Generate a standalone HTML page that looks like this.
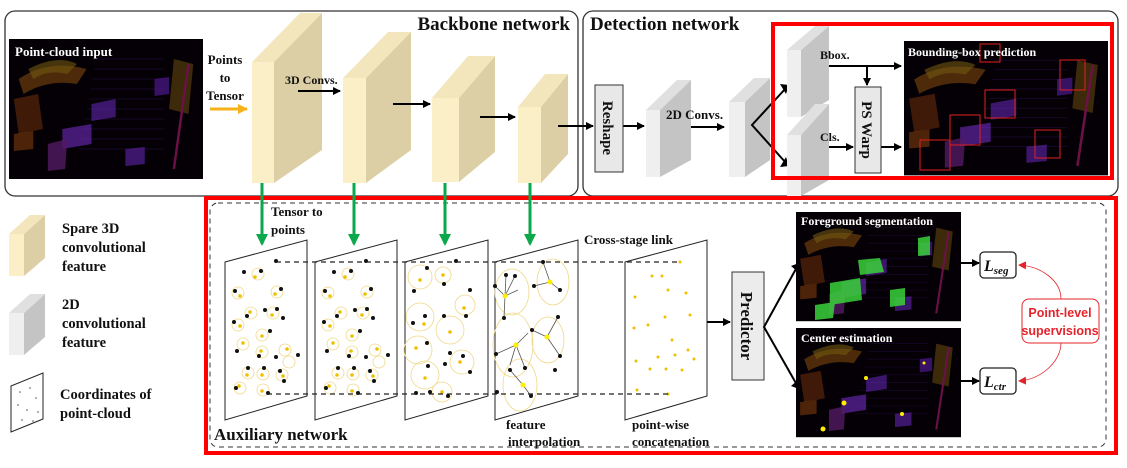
<!DOCTYPE html>
<html><head><meta charset="utf-8"><style>
html,body{margin:0;padding:0;background:#fff;}
svg{display:block;}
text{font-family:"Liberation Serif",serif;font-weight:bold;fill:#111;}
</style></head><body>
<svg width="1127" height="468" viewBox="0 0 1127 468" xmlns="http://www.w3.org/2000/svg">
<defs>
<marker id="ab" markerWidth="8" markerHeight="8" refX="7" refY="4" orient="auto" markerUnits="userSpaceOnUse"><path d="M0,0 L8,4 L0,8 z" fill="#000"/></marker>
<marker id="ag" markerWidth="12" markerHeight="12" refX="10" refY="6" orient="auto" markerUnits="userSpaceOnUse"><path d="M0,0 L12,6 L0,12 z" fill="#0aa84a"/></marker>
<marker id="ao" markerWidth="10" markerHeight="10" refX="9" refY="5" orient="auto" markerUnits="userSpaceOnUse"><path d="M0,0 L10,5 L0,10 z" fill="#f5b21a"/></marker>
<marker id="ar" markerWidth="8" markerHeight="8" refX="7" refY="4" orient="auto" markerUnits="userSpaceOnUse"><path d="M0,0 L8,4 L0,8 z" fill="#e3242b"/></marker>
<g id="pc">
<rect x="0" y="0" width="200" height="140" fill="#050005"/>
<g stroke="#2a1050" stroke-width="0.8" opacity="0.6">
<line x1="90" y1="20" x2="160" y2="20"/><line x1="88" y1="30" x2="160" y2="30"/><line x1="86" y1="40" x2="160" y2="40"/><line x1="84" y1="50" x2="160" y2="50"/><line x1="82" y1="60" x2="160" y2="60"/><line x1="80" y1="70" x2="160" y2="70"/><line x1="78" y1="80" x2="160" y2="80"/><line x1="76" y1="90" x2="160" y2="90"/><line x1="74" y1="100" x2="160" y2="100"/><line x1="72" y1="110" x2="160" y2="110"/>
</g>
<g opacity="0.55">
<path d="M10,40 Q40,20 80,30 L70,45 Q40,40 15,55 z" fill="#b46a12" opacity="0.75"/>
<path d="M20,30 Q50,15 70,25 L60,35 Q40,30 25,40 z" fill="#c9a21a" opacity="0.6"/>
<path d="M5,60 L30,55 L35,90 L10,95 z" fill="#a04510" opacity="0.7"/>
<path d="M170,20 L190,25 L185,75 L165,70 z" fill="#b08018" opacity="0.6"/>
<line x1="185" y1="25" x2="170" y2="130" stroke="#c02080" stroke-width="2.5"/>
<path d="M85,65 L110,60 L110,78 L85,82 z" fill="#6a28c0"/>
<path d="M55,90 L85,85 L85,105 L55,110 z" fill="#7a30d0"/>
<path d="M120,110 L140,108 L140,125 L120,127 z" fill="#6a28c0"/>
<path d="M40,105 L60,100 L58,130 L40,132 z" fill="#9030b0" opacity="0.8"/>
<path d="M150,40 L165,38 L165,55 L150,57 z" fill="#6020b0"/>
<path d="M5,95 L25,92 L25,110 L5,112 z" fill="#c06010" opacity="0.7"/>
</g>
</g>
<g id="pd">
<g fill="none" stroke="#f0d888" stroke-width="0.8">
<circle cx="258" cy="274" r="6"/><circle cx="238" cy="293" r="6"/><circle cx="277" cy="292" r="6"/><circle cx="251" cy="313" r="6"/><circle cx="273" cy="313" r="6"/><circle cx="238" cy="325" r="6"/><circle cx="262" cy="335" r="6"/><circle cx="243" cy="344" r="6"/><circle cx="262" cy="352" r="6"/><circle cx="285" cy="350" r="6"/><circle cx="248" cy="373" r="6"/><circle cx="263" cy="374" r="6"/><circle cx="282" cy="375" r="6"/><circle cx="240" cy="388" r="6"/><circle cx="263" cy="390" r="6"/><circle cx="289" cy="362" r="6"/>
</g>
<g fill="#111">
<circle cx="276" cy="261" r="2"/><circle cx="261" cy="271" r="2"/><circle cx="244" cy="272" r="2"/><circle cx="235" cy="291" r="2"/><circle cx="281" cy="289" r="2"/><circle cx="247" cy="316" r="2"/><circle cx="265" cy="310" r="2"/><circle cx="277" cy="309" r="2"/><circle cx="283" cy="318" r="2"/><circle cx="234" cy="322" r="2"/><circle cx="270" cy="331" r="2"/><circle cx="237" cy="351" r="2"/><circle cx="259" cy="356" r="2"/><circle cx="276" cy="357" r="2"/><circle cx="298" cy="355" r="2"/><circle cx="248" cy="368" r="2"/><circle cx="264" cy="368" r="2"/><circle cx="280" cy="371" r="2"/><circle cx="236" cy="388" r="2"/><circle cx="268" cy="393" r="2"/><circle cx="284" cy="381" r="2"/>
</g>
<g fill="#f0c000">
<circle cx="255" cy="277" r="1.8"/><circle cx="240" cy="296" r="1.8"/><circle cx="275" cy="294" r="1.8"/><circle cx="250" cy="312" r="1.8"/><circle cx="272" cy="315" r="1.8"/><circle cx="240" cy="326" r="1.8"/><circle cx="262" cy="336" r="1.8"/><circle cx="243" cy="343" r="1.8"/><circle cx="261" cy="351" r="1.8"/><circle cx="287" cy="349" r="1.8"/><circle cx="247" cy="375" r="1.8"/><circle cx="262" cy="375" r="1.8"/><circle cx="283" cy="376" r="1.8"/><circle cx="239" cy="386" r="1.8"/><circle cx="262" cy="391" r="1.8"/>
</g>
</g>
</defs>

<rect x="5" y="11" width="573" height="185" rx="10" fill="none" stroke="#333" stroke-width="1.3"/>
<rect x="583" y="11" width="535" height="185" rx="10" fill="none" stroke="#333" stroke-width="1.3"/>
<text x="570" y="30" font-size="19" text-anchor="end">Backbone network</text>
<text x="590" y="30" font-size="19">Detection network</text>

<g transform="translate(9,39) scale(0.97,1)"><use href="#pc"/></g>
<text x="15" y="56" font-size="13" style="fill:#fff">Point-cloud input</text>
<text x="225" y="64" font-size="13" text-anchor="middle">Points</text>
<text x="225" y="82" font-size="13" text-anchor="middle">to</text>
<text x="225" y="100" font-size="13" text-anchor="middle">Tensor</text>
<line x1="210" y1="109" x2="247" y2="109" stroke="#f5b21a" stroke-width="3" marker-end="url(#ao)"/>

<g>
<polygon points="274,62 322,13 322,150 274,183" fill="#dccfa6"/>
<polygon points="252,62 274,62 322,13 300,13" fill="#f3e6bd"/>
<rect x="252" y="62" width="22" height="121" fill="#fbefc8"/>
<polygon points="366,78 411,32 411,150 366,183" fill="#dccfa6"/>
<polygon points="343,78 366,78 411,32 388,32" fill="#f3e6bd"/>
<rect x="343" y="78" width="23" height="105" fill="#fbefc8"/>
<polygon points="459,98 495,56 495,152 459,182" fill="#dccfa6"/>
<polygon points="432,98 459,98 495,56 468,56" fill="#f3e6bd"/>
<rect x="432" y="98" width="27" height="84" fill="#fbefc8"/>
<polygon points="541,107 568,74 568,154 541,183" fill="#dccfa6"/>
<polygon points="518,107 541,107 568,74 545,74" fill="#f3e6bd"/>
<rect x="518" y="107" width="23" height="76" fill="#fbefc8"/>
</g>
<text x="285" y="84" font-size="12">3D Convs.</text>
<g stroke="#000" stroke-width="2" marker-end="url(#ab)">
<line x1="298" y1="91" x2="340" y2="91"/>
<line x1="393" y1="104" x2="430" y2="104"/>
<line x1="480" y1="117" x2="515" y2="117"/>
<line x1="558" y1="126" x2="593" y2="126"/>
<line x1="623" y1="126" x2="644" y2="126"/>
<line x1="676" y1="127" x2="724" y2="127"/>
<line x1="815" y1="66" x2="901" y2="66"/>
<line x1="867" y1="66" x2="867" y2="85"/>
<line x1="815" y1="147" x2="853" y2="147"/>
<line x1="881" y1="147" x2="901" y2="147"/>
<line x1="667" y1="322" x2="730" y2="322"/>
<line x1="961" y1="263" x2="979" y2="263"/>
<line x1="961" y1="381" x2="979" y2="381"/>
</g>

<rect x="595" y="85" width="28" height="87" fill="#e8e8e8" stroke="#333" stroke-width="1"/>
<text transform="translate(603,128) rotate(90)" font-size="15" text-anchor="middle">Reshape</text>
<polygon points="660,110 691,80 691,160 660,177" fill="#c4c4c4"/>
<polygon points="646,110 660,110 691,80 677,80" fill="#e0e0e0"/>
<rect x="646" y="110" width="14" height="67" fill="#efefef"/>
<text x="666" y="119" font-size="13">2D Convs.</text>
<polygon points="745,102 770,78 770,160 745,177" fill="#c4c4c4"/>
<polygon points="729,102 745,102 770,78 754,78" fill="#e0e0e0"/>
<rect x="729" y="102" width="16" height="75" fill="#efefef"/>
<polyline points="786,88 752,125 786,163" fill="none" stroke="#000" stroke-width="2"/>
<path d="M780,84 L789,85 L786,94 z M780,167 L789,166 L786,157 z" fill="#000"/>
<polygon points="801,50 829,26 829,100 801,117" fill="#c4c4c4"/>
<polygon points="787,50 801,50 829,26 815,26" fill="#e0e0e0"/>
<rect x="787" y="50" width="14" height="67" fill="#efefef"/>
<polygon points="801,135 829,104 829,180 801,196" fill="#c4c4c4"/>
<polygon points="787,135 801,135 829,104 815,104" fill="#e0e0e0"/>
<rect x="787" y="135" width="14" height="61" fill="#efefef"/>
<text x="820" y="59" font-size="12">Bbox.</text>
<text x="820" y="141" font-size="12">Cls.</text>
<rect x="855" y="87" width="26" height="86" fill="#e8e8e8" stroke="#333" stroke-width="1"/>
<text transform="translate(862,130) rotate(90)" font-size="15" text-anchor="middle">PS Warp</text>
<g transform="translate(904,41) scale(1.02,0.96)"><use href="#pc"/></g>
<g fill="none" stroke="#e02020" stroke-width="1">
<rect x="1060" y="60" width="25" height="30"/><rect x="985" y="90" width="30" height="28"/><rect x="950" y="115" width="30" height="30"/><rect x="1035" y="130" width="25" height="28"/><rect x="920" y="140" width="30" height="30"/><rect x="980" y="44" width="20" height="18"/>
</g>
<text x="908" y="56" font-size="12" style="fill:#fff">Bounding-box prediction</text>
<rect x="773" y="24" width="339" height="154" fill="none" stroke="#f00" stroke-width="4"/>

<polygon points="24,234 45,215 45,258 24,276" fill="#dccfa6"/>
<polygon points="9,234 24,234 45,215 30,215" fill="#f3e6bd"/>
<rect x="9" y="234" width="15" height="42" fill="#fbefc8"/>
<text x="62" y="233" font-size="14.5">Spare 3D</text>
<text x="62" y="252" font-size="14.5">convolutional</text>
<text x="62" y="271" font-size="14.5">feature</text>
<polygon points="24,313 45,294 45,337 24,355" fill="#c4c4c4"/>
<polygon points="9,313 24,313 45,294 30,294" fill="#e0e0e0"/>
<rect x="9" y="313" width="15" height="42" fill="#efefef"/>
<text x="62" y="309" font-size="14.5">2D</text>
<text x="62" y="328" font-size="14.5">convolutional</text>
<text x="62" y="347" font-size="14.5">feature</text>
<polygon points="11,386 43,373 43,419 11,432" fill="#fff" stroke="#222" stroke-width="1"/>
<g fill="#555"><circle cx="20" cy="392" r="0.8"/><circle cx="30" cy="388" r="0.8"/><circle cx="36" cy="398" r="0.8"/><circle cx="18" cy="405" r="0.8"/><circle cx="27" cy="410" r="0.8"/><circle cx="38" cy="412" r="0.8"/><circle cx="22" cy="420" r="0.8"/><circle cx="33" cy="421" r="0.8"/></g>
<text x="60" y="399" font-size="14.5">Coordinates of</text>
<text x="60" y="418" font-size="14.5">point-cloud</text>

<rect x="210" y="203" width="896" height="244" rx="8" fill="none" stroke="#333" stroke-width="1" stroke-dasharray="5,4"/>
<rect x="206" y="198" width="910" height="255" fill="none" stroke="#f00" stroke-width="4"/>
<g stroke="#0aa84a" stroke-width="3" marker-end="url(#ag)">
<line x1="262" y1="183" x2="262" y2="244"/>
<line x1="354" y1="183" x2="354" y2="244"/>
<line x1="445" y1="183" x2="445" y2="244"/>
<line x1="530" y1="183" x2="530" y2="244"/>
</g>
<text x="271" y="216" font-size="13">Tensor to</text>
<text x="271" y="234" font-size="13">points</text>
<text x="584" y="244" font-size="13">Cross-stage link</text>

<g fill="#fff" stroke="#222" stroke-width="1">
<polygon points="225,262 307,240 307,396 225,420"/>
<polygon points="315,262 397,240 397,396 315,420"/>
<polygon points="405,262 488,240 488,396 405,420"/>
<polygon points="495,262 578,240 578,396 495,420"/>
<polygon points="625,262 707,240 707,396 625,420"/>
</g>
<use href="#pd"/>
<use href="#pd" transform="translate(90,0)"/>
<g transform="translate(180,0)">
<g fill="none" stroke="#f0d888" stroke-width="0.8"><circle cx="240" cy="277" r="12"/><circle cx="263" cy="275" r="8"/><circle cx="240" cy="317" r="14"/><circle cx="270" cy="330" r="14"/><circle cx="238" cy="350" r="14"/><circle cx="282" cy="362" r="12"/><circle cx="245" cy="375" r="14"/><circle cx="262" cy="392" r="10"/><circle cx="285" cy="305" r="10"/></g>
<g fill="#111"><circle cx="276" cy="261" r="2"/><circle cx="247" cy="268" r="2"/><circle cx="264" cy="284" r="2"/><circle cx="234" cy="291" r="2"/><circle cx="290" cy="290" r="2"/><circle cx="245" cy="316" r="2"/><circle cx="264" cy="316" r="2"/><circle cx="286" cy="316" r="2"/><circle cx="233" cy="323" r="2"/><circle cx="247" cy="343" r="2"/><circle cx="270" cy="353" r="2"/><circle cx="283" cy="356" r="2"/><circle cx="290" cy="372" r="2"/><circle cx="265" cy="364" r="2"/><circle cx="248" cy="366" r="2"/><circle cx="236" cy="393" r="2"/><circle cx="268" cy="396" r="2"/><circle cx="250" cy="392" r="2"/></g>
<g fill="#f0c000"><circle cx="240" cy="280" r="1.8"/><circle cx="263" cy="275" r="1.8"/><circle cx="244" cy="324" r="1.8"/><circle cx="270" cy="332" r="1.8"/><circle cx="236" cy="348" r="1.8"/><circle cx="280" cy="362" r="1.8"/><circle cx="245" cy="378" r="1.8"/><circle cx="262" cy="392" r="1.8"/><circle cx="284" cy="308" r="1.8"/></g>
</g>
<g transform="translate(270,0)">
<g fill="none" stroke="#f0d888" stroke-width="0.8"><ellipse cx="242" cy="292" rx="17" ry="23"/><ellipse cx="283" cy="282" rx="16" ry="23"/><ellipse cx="243" cy="345" rx="20" ry="32"/><ellipse cx="278" cy="340" rx="16" ry="23"/><ellipse cx="250" cy="385" rx="17" ry="26"/></g>
<g stroke="#555" stroke-width="0.8"><line x1="235" y1="296" x2="225" y2="286"/><line x1="235" y1="296" x2="236" y2="275"/><line x1="235" y1="296" x2="245" y2="276"/><line x1="235" y1="296" x2="234" y2="318"/><line x1="235" y1="296" x2="248" y2="290"/><line x1="280" y1="282" x2="273" y2="262"/><line x1="280" y1="282" x2="290" y2="290"/><line x1="280" y1="282" x2="264" y2="286"/><line x1="246" y1="345" x2="226" y2="354"/><line x1="246" y1="345" x2="258" y2="333"/><line x1="246" y1="345" x2="255" y2="368"/><line x1="246" y1="345" x2="240" y2="365"/><line x1="277" y1="337" x2="288" y2="317"/><line x1="277" y1="337" x2="290" y2="356"/><line x1="277" y1="337" x2="262" y2="330"/><line x1="253" y1="385" x2="240" y2="370"/><line x1="253" y1="385" x2="261" y2="396"/></g>
<g fill="#111"><circle cx="273" cy="262" r="2"/><circle cx="236" cy="275" r="2"/><circle cx="245" cy="276" r="2"/><circle cx="225" cy="286" r="2"/><circle cx="290" cy="290" r="2"/><circle cx="264" cy="286" r="2"/><circle cx="234" cy="318" r="2"/><circle cx="288" cy="317" r="2"/><circle cx="262" cy="330" r="2"/><circle cx="226" cy="354" r="2"/><circle cx="290" cy="356" r="2"/><circle cx="255" cy="368" r="2"/><circle cx="240" cy="370" r="2"/><circle cx="227" cy="392" r="2"/><circle cx="261" cy="396" r="2"/><circle cx="285" cy="370" r="2"/></g>
<g fill="#ffee00"><circle cx="235" cy="296" r="2.5"/><circle cx="280" cy="282" r="2.5"/><circle cx="246" cy="345" r="2.5"/><circle cx="277" cy="337" r="2.5"/><circle cx="253" cy="385" r="2.5"/></g>
</g>
<g fill="#f0c000">
<circle cx="652" cy="276" r="1.5"/><circle cx="662" cy="276" r="1.5"/><circle cx="635" cy="297" r="1.5"/><circle cx="686" cy="293" r="1.5"/><circle cx="668" cy="290" r="1.5"/><circle cx="634" cy="328" r="1.5"/><circle cx="648" cy="325" r="1.5"/><circle cx="665" cy="317" r="1.5"/><circle cx="690" cy="315" r="1.5"/><circle cx="672" cy="340" r="1.5"/><circle cx="636" cy="361" r="1.5"/><circle cx="658" cy="357" r="1.5"/><circle cx="675" cy="355" r="1.5"/><circle cx="688" cy="350" r="1.5"/><circle cx="694" cy="359" r="1.5"/><circle cx="650" cy="369" r="1.5"/><circle cx="666" cy="369" r="1.5"/><circle cx="682" cy="370" r="1.5"/><circle cx="637" cy="390" r="1.5"/><circle cx="668" cy="394" r="1.5"/><circle cx="680" cy="262" r="1.5"/>
</g>
<g stroke="#222" stroke-width="1.2" stroke-dasharray="5,4" fill="none">
<line x1="276" y1="262" x2="678" y2="262"/>
<line x1="267" y1="394" x2="670" y2="394"/>
</g>
<text x="506" y="429" font-size="13">feature</text>
<text x="508" y="446" font-size="13">interpolation</text>
<text x="632" y="429" font-size="13">point-wise</text>
<text x="632" y="446" font-size="13">concatenation</text>
<text x="214" y="440" font-size="17">Auxiliary network</text>

<rect x="732" y="272" width="32" height="108" fill="#ececec" stroke="#333" stroke-width="1"/>
<text transform="translate(741,326) rotate(90)" font-size="17" text-anchor="middle">Predictor</text>
<polyline points="797,267 764,327 797,385" fill="none" stroke="#000" stroke-width="2"/>
<path d="M791,266 L799,263 L798,272 z M791,386 L799,389 L798,380 z" fill="#000"/>

<g transform="translate(796,212) scale(0.825,0.78)"><use href="#pc"/></g>
<g fill="#3ad23a" opacity="0.85"><path d="M858,260 L880,258 L884,272 L860,275 z"/><path d="M830,283 L860,278 L862,300 L830,305 z"/><path d="M815,305 L835,302 L833,318 L815,320 z"/><path d="M890,290 L905,288 L905,305 L890,307 z"/><path d="M918,238 L930,236 L930,255 L918,256 z"/></g>
<text x="801" y="225" font-size="12" style="fill:#fff">Foreground segmentation</text>
<g transform="translate(796,328) scale(0.825,0.78)"><use href="#pc"/></g>
<g fill="#ffee00"><circle cx="866" cy="378" r="2"/><circle cx="844" cy="403" r="2.5"/><circle cx="902" cy="414" r="2"/><circle cx="823" cy="429" r="2.5"/><circle cx="924" cy="363" r="1.5"/></g>
<text x="801" y="342" font-size="12" style="fill:#fff">Center estimation</text>

<rect x="980" y="252" width="36" height="26" rx="4" fill="#fff" stroke="#222" stroke-width="1.3"/>
<text x="984" y="271" font-size="16" font-style="italic">L<tspan font-size="11" dy="3">seg</tspan></text>
<rect x="980" y="368" width="36" height="26" rx="4" fill="#fff" stroke="#222" stroke-width="1.3"/>
<text x="984" y="387" font-size="16" font-style="italic">L<tspan font-size="11" dy="3">ctr</tspan></text>
<path d="M1061,299 C1061,280 1040,266 1019,265" fill="none" stroke="#e3242b" stroke-width="0.8" marker-end="url(#ar)"/>
<path d="M1061,343 C1061,362 1040,380 1019,381" fill="none" stroke="#e3242b" stroke-width="0.8" marker-end="url(#ar)"/>
<rect x="1022" y="299" width="77" height="44" rx="7" fill="#fff" stroke="#e3242b" stroke-width="1"/>
<text x="1060" y="317" font-size="12.5" text-anchor="middle" style="fill:#e3242b;font-family:'Liberation Sans',sans-serif">Point-level</text>
<text x="1060" y="335" font-size="12.5" text-anchor="middle" style="fill:#e3242b;font-family:'Liberation Sans',sans-serif">supervisions</text>
</svg>
</body></html>
